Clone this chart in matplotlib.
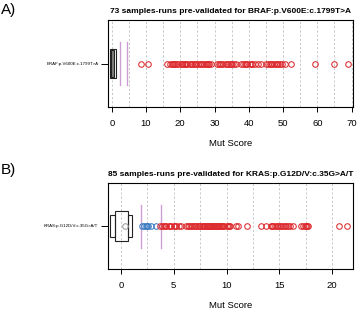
import matplotlib
matplotlib.use("Agg")
from matplotlib import pyplot as plt
from matplotlib.patches import Rectangle

plt.rcParams['font.family'] = ['Liberation Sans', 'DejaVu Sans']

# Panel A: BRAF
braf_label = "BRAF:p.V600E:c.1799T>A"
braf_title = "73 samples-runs pre-validated for BRAF:p.V600E:c.1799T>A"
braf_scores = [8.4, 10.6, 16.2, 17.0, 17.5, 17.8, 18.2, 18.6, 19.0, 19.4,
               20.1, 20.4, 20.6, 21.0, 21.5, 21.8, 22.1, 22.7, 23.0, 23.3,
               24.0, 24.3, 24.6, 25.2, 25.8, 26.0, 26.3, 26.9, 27.4, 27.9,
               28.2, 28.5, 29.0, 30.6, 31.3, 31.7, 32.0, 32.6, 33.2, 33.5,
               33.8, 34.4, 34.8, 35.0, 35.6, 36.3, 37.6, 38.2, 38.9, 39.2,
               39.6, 40.3, 40.8, 41.0, 41.8, 42.6, 43.5, 45.0, 45.6, 46.2,
               46.5, 46.8, 47.4, 48.0, 48.3, 48.6, 49.2, 49.8, 50.6, 52.4,
               59.2, 64.8, 68.9]
braf_box = {"notch_lo": -0.09, "q1": -0.5, "q3": 1.16, "notch_hi": 0.67}
braf_cutoffs = [2.35, 4.5]
braf_xticks = [0, 10, 20, 30, 40, 50, 60, 70]
braf_grid = [0, 5, 10, 15, 20, 25, 30, 35, 40, 45, 50, 55, 60, 65, 70]
braf_xlim = (-1.1, 70.5)

# Panel B: KRAS
kras_label = "KRAS:p.G12D/V:c.35G>A/T"
kras_title = "85 samples-runs pre-validated for KRAS:p.G12D/V:c.35G>A/T"
kras_low = [2.0, 2.2, 2.4, 2.5, 2.6, 2.85, 3.35]
kras_scores = [3.65, 3.9, 4.1, 4.2, 4.3, 4.5, 4.6, 4.75, 5.0, 5.1, 5.2, 5.45,
               5.65, 6.2, 6.3, 6.4, 6.6, 6.7, 6.9, 7.0, 7.1, 7.3, 7.4, 7.5,
               7.7, 7.8, 7.9, 8.0, 8.1, 8.15, 8.2, 8.3, 8.4, 8.5, 8.6, 8.7,
               8.8, 8.9, 9.0, 9.1, 9.2, 9.3, 9.4, 9.5, 9.6, 9.7, 9.8, 10.0,
               10.1, 10.2, 10.3, 10.9, 11.1, 11.9, 13.3, 13.7, 14.2, 14.3,
               14.4, 14.6, 14.8, 14.9, 15.1, 15.2, 15.3, 15.5, 15.6, 15.8,
               16.0, 16.3, 17.0, 17.2, 17.4, 17.5, 17.6, 17.7, 20.6, 21.4]
kras_box = {"notch_lo": -1.04, "q1": -0.57, "q3": 0.66, "notch_hi": 1.0}
kras_mean = 0.38
kras_cutoffs = [1.85, 3.76]
kras_xticks = [0, 5, 10, 15, 20]
kras_grid = [0, 2.5, 5, 7.5, 10, 12.5, 15, 17.5, 20]
kras_xlim = (-1.23, 22.0)

RED = "#dc2a2e"
BLUE = "#3b7cc2"
PURPLE = "#cc9fd4"
MS = 4.0


def draw_box(ax, box, inner_fill):
    """Draws the folded notched box used by R when notches pass the hinges."""
    wide, narrow = 0.172, 0.125
    ax.add_patch(Rectangle((box["q1"], 1 - wide), box["q3"] - box["q1"], 2 * wide,
                           fill=False, ec="#222222", lw=0.8, zorder=3))
    lo, hi = box["notch_lo"], box["notch_hi"]
    if inner_fill:
        ax.add_patch(Rectangle((lo, 1 - 0.15), hi - lo, 0.30,
                               fc="#808080", ec="#222222", lw=0.8, zorder=4))
    else:
        ax.add_patch(Rectangle((lo, 1 - narrow), box["q1"] - lo, 2 * narrow,
                               fill=False, ec="#222222", lw=0.8, zorder=3))
        ax.add_patch(Rectangle((box["q3"], 1 - narrow), hi - box["q3"], 2 * narrow,
                               fill=False, ec="#222222", lw=0.8, zorder=3))


def setup(ax, title, label, xticks, grid, xlim):
    ax.set_xlim(*xlim)
    ax.set_ylim(0.5, 1.5)
    for g in grid:
        ax.axvline(g, color="#bdbdbd", lw=0.6, ls=(0, (2.5, 2.5)), zorder=1)
    ax.set_xticks(xticks)
    ax.set_yticks([1])
    ax.set_yticklabels([label], fontsize=3.2)
    ax.tick_params(axis="x", labelsize=6.8, length=3.5, width=0.7, pad=5)
    ax.tick_params(axis="y", length=5, width=0.7, pad=2)
    for s in ax.spines.values():
        s.set_linewidth(0.8)
    ax.set_title(title, fontsize=6.0, fontweight="bold", pad=5)


fig = plt.figure(figsize=(3.58, 3.11), dpi=100)
ax1 = fig.add_axes([108 / 358, 1 - 107 / 311, 245.3 / 358, 87 / 311])
ax2 = fig.add_axes([108 / 358, 1 - 269 / 311, 245.3 / 358, 86 / 311])

# Panel A
setup(ax1, braf_title, braf_label, braf_xticks, braf_grid, braf_xlim)
for c in braf_cutoffs:
    ax1.plot([c, c], [0.75, 1.25], color=PURPLE, lw=1.0, zorder=2)
draw_box(ax1, braf_box, True)
ax1.plot(braf_scores, [1] * len(braf_scores), "o", mfc="none", mec=RED,
         ms=MS, mew=0.75, zorder=5)

# Panel B
setup(ax2, kras_title, kras_label, kras_xticks, kras_grid, kras_xlim)
for c in kras_cutoffs:
    ax2.plot([c, c], [0.75, 1.25], color=PURPLE, lw=1.0, zorder=2)
draw_box(ax2, kras_box, False)
ax2.plot([kras_mean], [1], "o", mfc="none", mec="#999999", ms=MS, mew=0.75, zorder=5)
ax2.plot(kras_low, [1] * len(kras_low), "o", mfc="none", mec=BLUE,
         ms=MS, mew=0.75, zorder=5)
ax2.plot(kras_scores, [1] * len(kras_scores), "o", mfc="none", mec=RED,
         ms=MS, mew=0.75, zorder=5)

fig.text(230.5 / 358, 1 - 144 / 311, "Mut Score", ha="center", va="center", fontsize=6.8)
fig.text(230.5 / 358, 1 - 306 / 311, "Mut Score", ha="center", va="center", fontsize=6.8)
fig.text(1 / 358, 1 - 10 / 311, "A)", ha="left", va="center", fontsize=11)
fig.text(1 / 358, 1 - 170 / 311, "B)", ha="left", va="center", fontsize=11)

fig.savefig("out.png", dpi=100)
